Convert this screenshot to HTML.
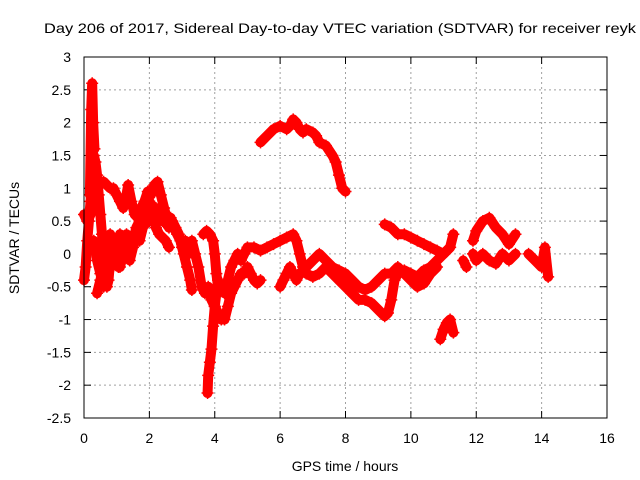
<!DOCTYPE html>
<html><head><meta charset="utf-8"><style>
body{margin:0;background:#fff}
svg{display:block;font-family:"Liberation Sans",sans-serif}
</style></head><body>
<svg id="chart" width="640" height="480" viewBox="0 0 640 480">
<rect width="640" height="480" fill="#fff"/>
<text x="340" y="33" font-size="14" text-anchor="middle" textLength="592" lengthAdjust="spacingAndGlyphs">Day 206 of 2017, Sidereal Day-to-day VTEC variation (SDTVAR) for receiver reyk</text>
<g id="grid"></g>
<g id="ticks"></g>
<g id="marks"></g>
<rect x="84" y="57" width="523" height="361" fill="none" stroke="#000" stroke-width="1"/>
<text x="345" y="471" font-size="14" text-anchor="middle">GPS time / hours</text>
<text transform="translate(19,238) rotate(-90)" font-size="14" text-anchor="middle">SDTVAR / TECUs</text>
</svg>
<script>
const xTicks=[0,2,4,6,8,10,12,14,16];
const yTicks=[3,2.5,2,1.5,1,0.5,0,-0.5,-1,-1.5,-2,-2.5];
const tracks=[
[[0,-0.4],[0.05,-0.2],[0.1,0.2],[0.15,0.5],[0.2,0.8],[0.25,1.2],[0.3,1.5],[0.35,1.4],[0.4,1.2],[0.45,0.9],[0.5,0.6],[0.55,0.3],[0.6,0],[0.65,-0.3],[0.7,-0.5],[0.75,-0.4],[0.8,-0.1],[0.9,0.2],[1,0],[1.1,-0.2],[1.2,0],[1.3,0.2]],
[[0.18,0.9],[0.22,2.2],[0.25,2.6],[0.28,2.0],[0.32,1.6]],
[[0,0.6],[0.1,0.5],[0.2,0.6],[0.3,0.9],[0.4,1.0],[0.5,1.1],[0.6,1.1],[0.7,1.05],[0.8,1.0],[0.9,1.0],[1.0,0.9],[1.1,0.8],[1.2,0.7],[1.3,0.9],[1.35,1.05],[1.45,0.8],[1.55,0.6],[1.65,0.55],[1.75,0.7],[1.85,0.8],[1.95,0.95],[2.05,0.9],[2.15,1.05],[2.25,1.1],[2.35,0.9],[2.45,0.7],[2.55,0.5],[2.65,0.55],[2.75,0.4],[2.85,0.3],[2.95,0.2],[3.05,0],[3.15,-0.2],[3.25,-0.4],[3.3,-0.55]],
[[0.4,-0.6],[0.5,-0.4],[0.6,-0.2],[0.7,0.1],[0.8,0.3],[0.9,0.2],[1.0,-0.1],[1.05,-0.2],[1.15,0.1],[1.3,0.3],[1.4,0.1],[1.5,0.2],[1.6,0.4],[1.7,0.5],[1.8,0.6],[1.9,0.7],[2.0,0.5],[2.1,0.6],[2.2,0.7],[2.3,0.6],[2.4,0.5],[2.5,0.5],[2.6,0.4],[2.7,0.5],[2.8,0.4],[2.9,0.3],[3.0,0.1],[3.1,0.2],[3.2,0],[3.3,0.2],[3.4,0],[3.5,-0.2],[3.6,-0.5],[3.7,-0.6],[3.8,-0.5],[3.9,-0.7],[4.0,-0.8],[4.1,-0.9],[4.2,-1.0],[4.3,-1.0],[4.4,-0.8],[4.5,-0.6],[4.6,-0.5],[4.7,-0.4],[4.8,-0.3],[4.9,-0.3],[5.0,-0.2],[5.1,-0.3],[5.2,-0.4],[5.3,-0.45],[5.4,-0.4]],
[[0.3,0.2],[0.4,-0.1],[0.5,-0.3],[0.6,-0.5],[0.7,-0.4],[0.8,-0.2],[0.9,-0.1],[1.0,0.1],[1.1,0.3],[1.2,0.2],[1.3,0.0],[1.4,-0.1],[1.5,0.1],[1.6,0.3],[1.7,0.2],[1.8,0.4],[1.9,0.5],[2.0,0.8],[2.1,0.7],[2.2,0.4],[2.3,0.3],[2.5,0.2],[2.6,0.1]],
[[3.65,0.3],[3.75,0.35],[3.85,0.3],[3.95,0.2],[4.0,0],[4.05,-0.3],[4.1,-0.5]],
[[3.78,-2.12],[3.8,-1.85],[3.85,-1.65],[3.9,-1.45],[3.95,-1.1],[4.0,-0.8],[4.05,-0.6],[4.1,-0.4]],
[[4.3,-0.6],[4.4,-0.4],[4.5,-0.2],[4.6,-0.1],[4.7,0],[4.8,-0.1],[4.9,0],[5.0,0.1],[5.2,0.1],[5.4,0.05],[5.6,0.1],[5.8,0.15],[6.0,0.2],[6.2,0.25],[6.4,0.3],[6.5,0.2],[6.6,0],[6.7,-0.2],[6.8,-0.3],[7.0,-0.35],[7.2,-0.3],[7.4,-0.2],[7.6,-0.3],[7.8,-0.4],[8.0,-0.5],[8.2,-0.6],[8.4,-0.7],[8.6,-0.7],[8.8,-0.75],[9.0,-0.85],[9.2,-0.95],[9.3,-0.9],[9.4,-0.7],[9.5,-0.4],[9.6,-0.3],[9.8,-0.25],[10.0,-0.3],[10.2,-0.35],[10.4,-0.25],[10.6,-0.2],[10.8,-0.1],[11.0,0],[11.2,0.1],[11.3,0.3]],
[[6.0,-0.5],[6.1,-0.4],[6.2,-0.3],[6.3,-0.2],[6.4,-0.3],[6.5,-0.4],[6.6,-0.3],[6.8,-0.2],[7.0,-0.1],[7.2,0],[7.4,-0.1],[7.6,-0.2],[7.8,-0.25],[8.0,-0.3],[8.2,-0.4],[8.4,-0.5],[8.6,-0.55],[8.8,-0.5],[9.0,-0.4],[9.2,-0.3],[9.4,-0.3],[9.6,-0.2],[9.8,-0.3],[10.0,-0.4],[10.2,-0.5],[10.4,-0.45],[10.6,-0.3],[10.8,-0.2]],
[[5.4,1.7],[5.6,1.8],[5.8,1.9],[6.0,1.95],[6.2,1.9],[6.3,1.95],[6.4,2.05],[6.5,2.0],[6.6,1.9],[6.7,1.85],[6.8,1.9],[7.0,1.85],[7.1,1.8],[7.2,1.7],[7.4,1.65],[7.6,1.5],[7.7,1.4],[7.8,1.2],[7.9,1.0],[8.0,0.95]],
[[9.2,0.45],[9.4,0.4],[9.6,0.3],[9.8,0.3],[10.0,0.25],[10.2,0.2],[10.4,0.15],[10.6,0.1],[10.8,0.05],[11.0,0],[11.2,0.1]],
[[10.9,-1.3],[11.0,-1.15],[11.1,-1.05],[11.2,-1.0],[11.3,-1.2]],
[[11.9,0.2],[12.0,0.35],[12.2,0.5],[12.4,0.55],[12.6,0.4],[12.8,0.3],[13.0,0.15],[13.2,0.3]],
[[11.9,0],[12.0,-0.1],[12.2,0],[12.4,-0.1],[12.6,-0.15],[12.8,0],[13.0,-0.1],[13.2,0]],
[[13.6,0],[13.8,-0.1],[14.0,-0.2],[14.1,0.1],[14.2,-0.35]],
[[11.6,-0.1],[11.7,-0.2]]
];
const NS='http://www.w3.org/2000/svg';
const X=v=>84+v*(523/16);
const Y=v=>57+(3-v)*(361/5.5);
function mk(tag,attrs,parent){const e=document.createElementNS(NS,tag);for(const k in attrs)e.setAttribute(k,attrs[k]);parent.appendChild(e);return e;}
const grid=document.getElementById('grid'),ticks=document.getElementById('ticks'),marks=document.getElementById('marks');
xTicks.forEach(t=>{
  const x=X(t);
  if(t>0&&t<16){const g=mk('line',{x1:x,y1:57,x2:x,y2:418,stroke:'#a0a0a0','stroke-dasharray':'2,3'},grid);
  
  }
  mk('line',{x1:x,y1:418,x2:x,y2:411,stroke:'#000'},ticks);
  mk('line',{x1:x,y1:57,x2:x,y2:64,stroke:'#000'},ticks);
  const l=mk('text',{x:x,y:443,'font-size':14,'text-anchor':'middle'},ticks);l.textContent=t;
  
  
});
yTicks.forEach(t=>{
  const y=Y(t);
  if(t<3&&t>-2.5){const g=mk('line',{x1:84,y1:y,x2:607,y2:y,stroke:'#a0a0a0','stroke-dasharray':'2,3'},grid);
  
  }
  mk('line',{x1:84,y1:y,x2:91,y2:y,stroke:'#000'},ticks);
  mk('line',{x1:607,y1:y,x2:600,y2:y,stroke:'#000'},ticks);
  const l=mk('text',{x:71,y:y+5,'font-size':14,'text-anchor':'end'},ticks);l.textContent=t;
  
  
});
tracks.forEach(tr=>{
  const pl=mk('polyline',{points:tr.map(p=>X(p[0])+','+Y(p[1])).join(' '),fill:'none',stroke:'#ff0000','stroke-width':10,'stroke-linejoin':'round','stroke-linecap':'round'},marks);
  
  
  tr.forEach(p=>{
    const x=X(p[0]),y=Y(p[1]);
    const m=mk('path',{d:`M${x-6},${y}h12M${x},${y-6}v12`,stroke:'#ff0000','stroke-width':1.5},marks);
    
    
  });
});
</script>
</body></html>
